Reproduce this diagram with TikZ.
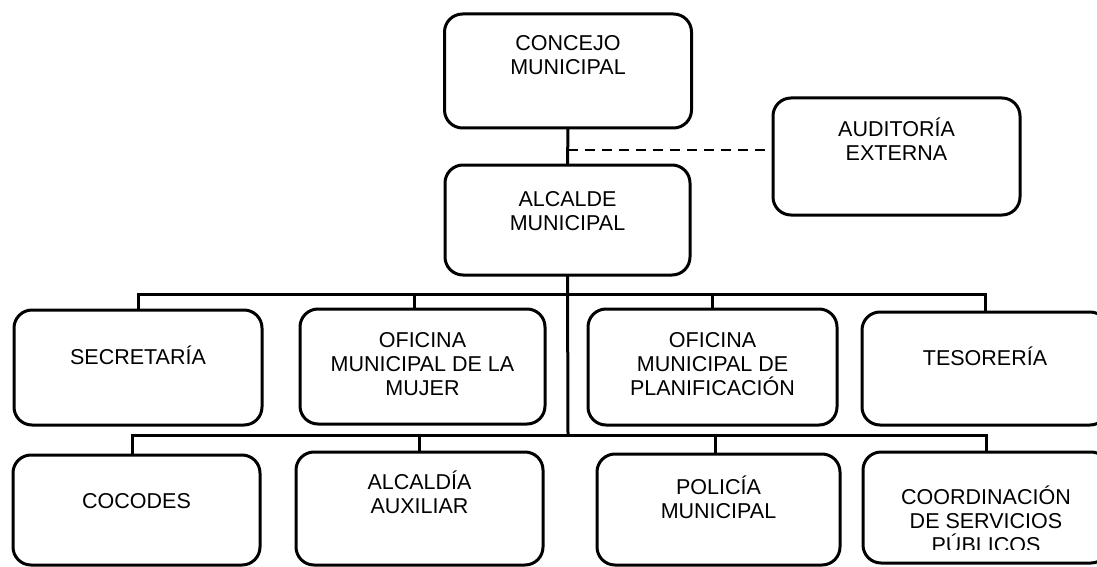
\documentclass[tikz,border=0pt]{standalone}
\usepackage{fontspec}
\setmainfont{Liberation Sans}
\usetikzlibrary{positioning}

\begin{document}
\begin{tikzpicture}[x=1pt, y=-1pt, line width=3pt,
	unit/.style={draw, rounded corners=18pt, outer sep=0pt, minimum width=247pt, minimum height=113pt},
	lbl/.style={anchor=north, inner sep=0pt, align=center, font=\fontsize{21.5}{24}\selectfont, execute at begin node=\rule{0pt}{19pt}}]
	\useasboundingbox (0,0) rectangle (1097,567);
	\node[unit, minimum height=114pt] (conc) at (568,71) {};
	\node[unit, minimum width=245pt, minimum height=110pt] (alc) at (567.5,220) {};
	\node[unit, minimum height=117pt] (aud) at (896.5,156.5) {};
	\node[unit, minimum width=248pt, minimum height=115pt] (sec) at (138,367.5) {};
	\node[unit, minimum width=245pt, minimum height=115pt] (muj) at (422.5,366.5) {};
	\node[unit, minimum width=249pt, minimum height=116pt] (plan) at (712.5,367) {};
	\node[unit, minimum width=246pt] (tes) at (985,368.5) {};
	\node[unit, minimum height=110pt] (coc) at (136.5,510) {};
	\node[unit] (aux) at (419.5,508.5) {};
	\node[unit, minimum width=243pt, minimum height=111pt] (pol) at (718.5,509.5) {};
	\node[unit, minimum width=246pt, minimum height=111pt] (coord) at (986,507.5) {};

	\node[lbl, below=20pt of conc.north] (concT) {CONCEJO\\MUNICIPAL};
	\node[lbl, below=25pt of alc.north] (alcT) {ALCALDE\\MUNICIPAL};
	\node[lbl, below=18pt of aud.north] (audT) {AUDITORÍA\\EXTERNA};
	\node[lbl, below=34pt of sec.north] (secT) {SECRETARÍA};
	\node[lbl, below=22pt of muj.north] (mujT) {OFICINA\\MUNICIPAL DE LA\\MUJER};
	\node[lbl, below=22pt of plan.north] (planT) {OFICINA\\MUNICIPAL DE\\PLANIFICACIÓN};
	\node[lbl, below=33pt of tes.north] (tesT) {TESORERÍA};
	\node[lbl, below=33pt of coc.north] (cocT) {COCODES};
	\node[lbl, below=17pt of aux.north] (auxT) {ALCALDÍA\\AUXILIAR};
	\node[lbl, below=20pt of pol.north] (polT) {POLICÍA\\MUNICIPAL};
	\begin{scope}
		\clip (850,440) rectangle (1097,549);
		\node[lbl, below=32pt of coord.north] (coordT) {COORDINACIÓN\\DE SERVICIOS\\PÚBLICOS};
	\end{scope}

	\coordinate (dsh) at (568,150);
	\coordinate (b1) at (568,294);
	\coordinate (b2) at (568,435);
	\draw (conc.south) -- (alc.north);
	\draw[dashed, line width=1.8pt, dash pattern=on 10pt off 7pt] (dsh) -- (dsh -| aud.west);
	\draw (alc.south) -- (b2);
	\draw (sec.north) |- (b1) -| (tes.north);
	\draw ([xshift=-8pt]muj.north) -- ([xshift=-8pt]muj.north |- b1);
	\draw (plan.north) -- (plan.north |- b1);
	\draw ([xshift=-4pt]coc.north) |- (b2) -| (coord.north);
	\draw (aux.north) -- (aux.north |- b2);
	\draw ([xshift=-3pt]pol.north) -- ([xshift=-3pt]pol.north |- b2);
\end{tikzpicture}
\end{document}
